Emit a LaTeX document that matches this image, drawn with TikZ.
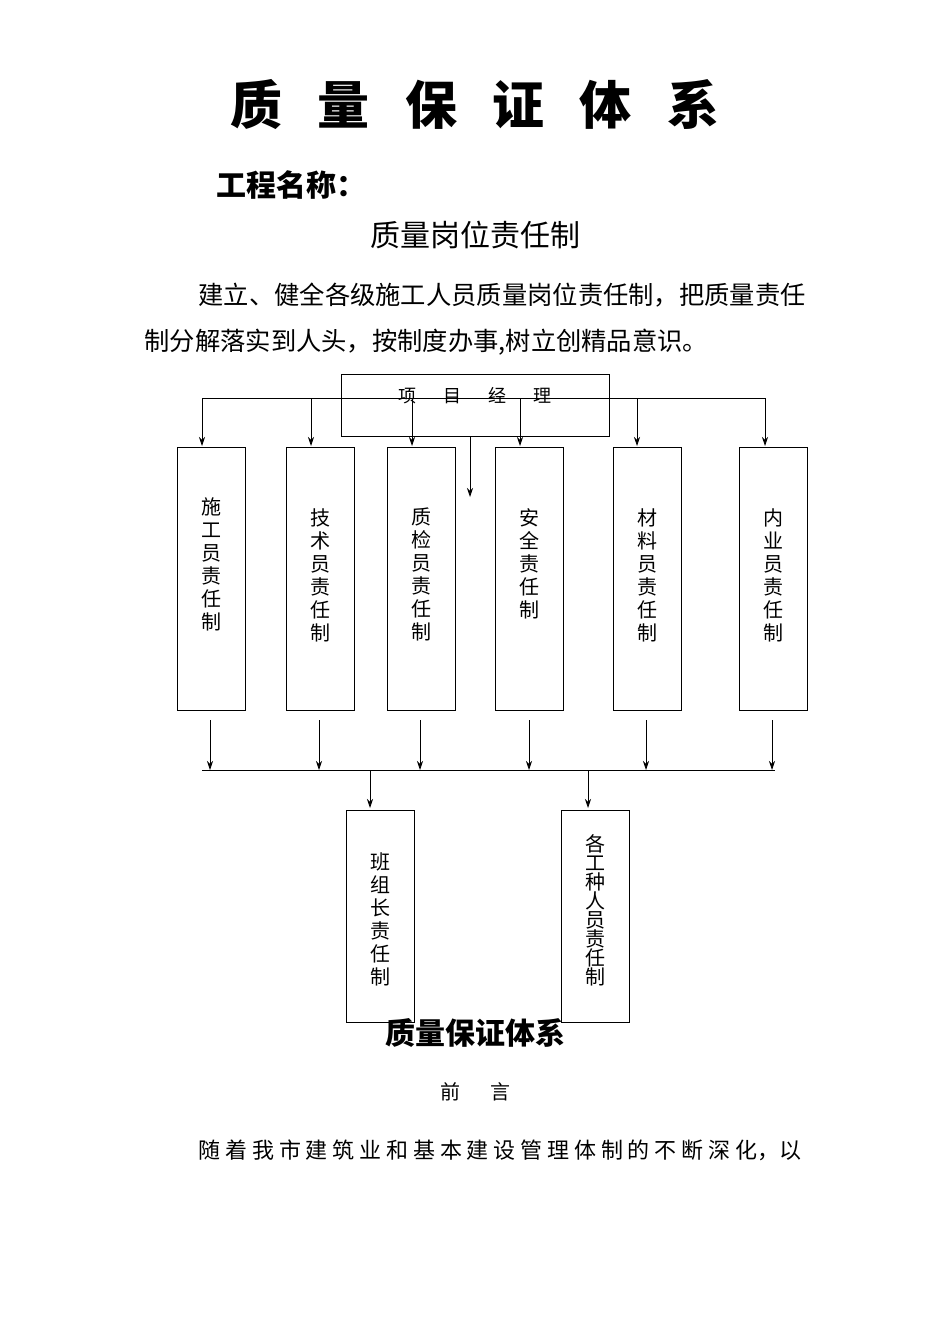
\documentclass[tikz,border=0pt]{standalone}
\usepackage{fontspec}
\newfontfamily\cjk{Noto Sans CJK SC}
\usetikzlibrary{arrows.meta}
\begin{document}
\begin{tikzpicture}[x=1pt,y=-1pt,
  box/.style={draw,line width=0.8pt,minimum width=68pt,anchor=north west,inner sep=0pt},
  vt/.style={anchor=north,font=\cjk\fontsize{20}{23}\selectfont,align=center,inner sep=0pt},
  arr/.style={line width=0.8pt,-{Stealth[length=9pt,width=6pt]}},
  ln/.style={line width=0.8pt}]
\useasboundingbox (0,0) rectangle (950,1344);
\node (t) at (475,105) {\cjk\bfseries\fontsize{52}{56}\selectfont 质\hspace{0.68em}量\hspace{0.68em}保\hspace{0.68em}证\hspace{0.68em}体\hspace{0.68em}系};
\node[anchor=west] (gc) at (213,185) {\cjk\bfseries\fontsize{30}{34}\selectfont 工程名称：};
\node (gw) at (475,235) {\cjk\fontsize{30}{34}\selectfont 质量岗位责任制};
\node[anchor=west] (p1) at (195,295) {\cjk\fontsize{25.3}{28}\selectfont 建立、健全各级施工人员质量岗位责任制，把质量责任};
\node[anchor=west] (p2) at (141,342) {\cjk\fontsize{25.3}{28}\selectfont 制分解落实到人头，按制度办事,树立创精品意识。};
% top box
\node[box,minimum width=268pt,minimum height=62pt] (pm) at (341,374) {};
\node (pmt) at (475,396) {\cjk\fontsize{18}{20}\selectfont 项\hspace{1.5em}目\hspace{1.5em}经\hspace{1.5em}理};
\draw[ln] (202,398) coordinate (L) -- (765,398) coordinate (R);
\foreach \x in {202,311,412,520,637,765} \draw[arr] (\x,398) -- (\x,446);
\draw[arr] (470,436) -- (470,497);
% boxes
\foreach \x/\n/\t/\s in {177/b1/{施\\工\\员\\责\\任\\制}/497, 286/b2/{技\\术\\员\\责\\任\\制}/508, 387/b3/{质\\检\\员\\责\\任\\制}/508, 495/b4/{安\\全\\责\\任\\制}/508, 613/b5/{材\\料\\员\\责\\任\\制}/508, 739/b6/{内\\业\\员\\责\\任\\制}/508}{
  \node[box,minimum height=263pt] (\n) at (\x,447) {};
  \node[vt] at (\x+34,\s) {\t};
}
\foreach \x in {210,319,420,529,646,772} \draw[arr] (\x,720) -- (\x,770);
\draw[ln] (202,770) -- (775,770);
\draw[arr] (370,770) -- (370,808);
\draw[arr] (588,770) -- (588,808);
\node[box,minimum height=212pt] (c1) at (346,810) {};
\node[vt] at (380,852) {班\\组\\长\\责\\任\\制};
\node[box,minimum height=212pt] (c2) at (561,810) {};
\node[vt,font=\cjk\fontsize{20}{19}\selectfont] at (595,834) {各\\工\\种\\人\\员\\责\\任\\制};
\node (bt) at (475,1033) {\cjk\bfseries\fontsize{30}{34}\selectfont 质量保证体系};
\node (qy) at (475,1092) {\cjk\fontsize{20}{24}\selectfont 前\hspace{1.5em}言};
\node[anchor=west] (p3) at (195,1150) {\cjk\fontsize{22}{26}\selectfont 随\hspace{0.22em}着\hspace{0.22em}我\hspace{0.22em}市\hspace{0.22em}建\hspace{0.22em}筑\hspace{0.22em}业\hspace{0.22em}和\hspace{0.22em}基\hspace{0.22em}本\hspace{0.22em}建\hspace{0.22em}设\hspace{0.22em}管\hspace{0.22em}理\hspace{0.22em}体\hspace{0.22em}制\hspace{0.22em}的\hspace{0.22em}不\hspace{0.22em}断\hspace{0.22em}深\hspace{0.22em}化，以};
\end{tikzpicture}
\end{document}
